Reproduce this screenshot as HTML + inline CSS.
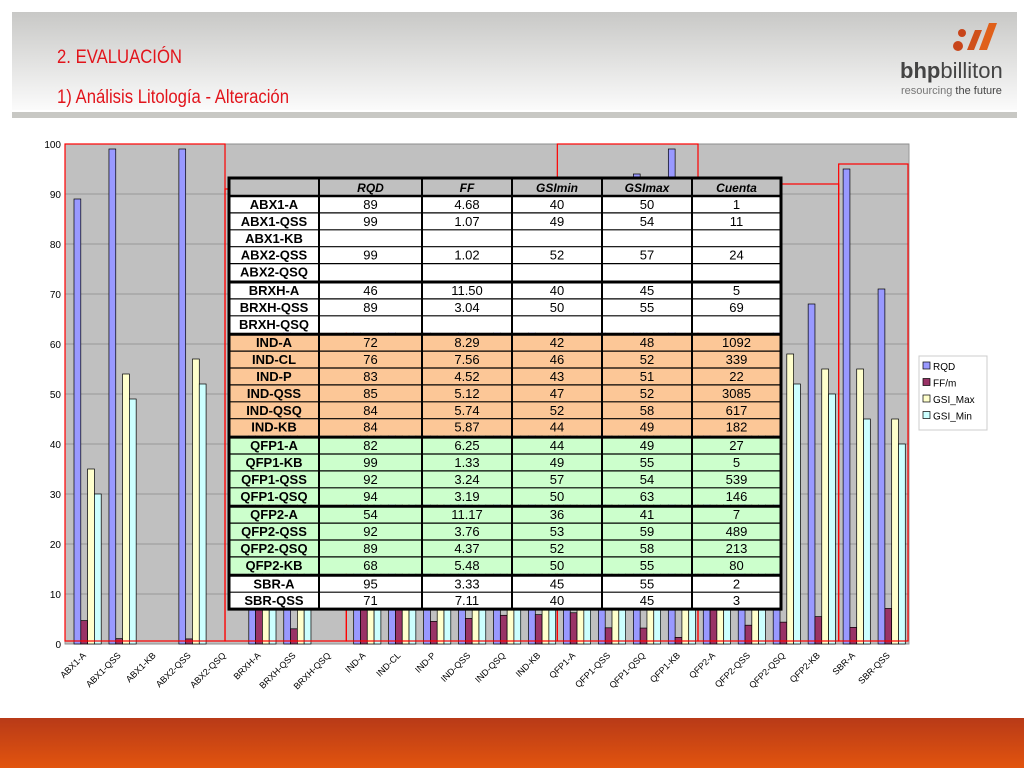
<!DOCTYPE html>
<html><head><meta charset="utf-8"><style>
body{margin:0;width:1024px;height:768px;overflow:hidden;background:#fff;font-family:"Liberation Sans",sans-serif}
</style></head><body>
<svg width="1024" height="768" xmlns="http://www.w3.org/2000/svg" style="font-family:'Liberation Sans',sans-serif">
<defs>
<linearGradient id="hdr" x1="0" y1="0" x2="0" y2="1"><stop offset="0" stop-color="#c8c8c6"/><stop offset="1" stop-color="#fbfbfb"/></linearGradient>
<linearGradient id="ftr" x1="0" y1="0" x2="0" y2="1"><stop offset="0" stop-color="#b83a18"/><stop offset="1" stop-color="#e2540e"/></linearGradient>
</defs>
<rect x="12" y="12" width="1005" height="98" fill="url(#hdr)"/>
<rect x="12" y="112" width="1005" height="6" fill="#c8c8c4"/>
<text x="57" y="63" font-size="19" fill="#e2141b" textLength="125" lengthAdjust="spacingAndGlyphs">2. EVALUACIÓN</text>
<text x="57" y="103" font-size="19" fill="#e2141b" textLength="232" lengthAdjust="spacingAndGlyphs">1) Análisis Litología - Alteración</text>
<g>
<circle cx="958" cy="46" r="5" fill="#c8451a"/><circle cx="962" cy="33" r="4" fill="#c8451a"/>
<path d="M967 50 L975 30 L982 30 L974 50Z" fill="#d0501a"/><path d="M979 50 L989 23 L997 23 L987 50Z" fill="#e0601a"/>
<text x="900" y="78" font-size="22" fill="#444" font-weight="bold">bhp<tspan font-weight="normal">billiton</tspan></text>
<text x="901" y="94" font-size="11" fill="#777">resourcing <tspan fill="#444">the future</tspan></text>
</g>
<rect x="0" y="718" width="1024" height="50" fill="url(#ftr)"/>
<g id="chart"></g>
<g id="tbl"></g>
</svg>
<script>
const categories=["ABX1-A","ABX1-QSS","ABX1-KB","ABX2-QSS","ABX2-QSQ","BRXH-A","BRXH-QSS","BRXH-QSQ","IND-A","IND-CL","IND-P","IND-QSS","IND-QSQ","IND-KB","QFP1-A","QFP1-KB","QFP1-QSS","QFP1-QSQ","QFP2-A","QFP2-QSS","QFP2-QSQ","QFP2-KB","SBR-A","SBR-QSS"];
const axisLabels=["ABX1-A","ABX1-QSS","ABX1-KB","ABX2-QSS","ABX2-QSQ","BRXH-A","BRXH-QSS","BRXH-QSQ","IND-A","IND-CL","IND-P","IND-QSS","IND-QSQ","IND-KB","QFP1-A","QFP1-QSS","QFP1-QSQ","QFP1-KB","QFP2-A","QFP2-QSS","QFP2-QSQ","QFP2-KB","SBR-A","SBR-QSS"];
const rqd=[89,99,null,99,null,46,89,null,72,76,83,85,84,84,82,92,94,99,54,92,89,68,95,71];
const ff=[4.68,1.07,null,1.02,null,11.50,3.04,null,8.29,7.56,4.52,5.12,5.74,5.87,6.25,3.24,3.19,1.33,11.17,3.76,4.37,5.48,3.33,7.11];
const gsiMax=[35,54,null,57,null,45,55,null,48,52,51,52,58,49,49,54,63,55,41,59,58,55,55,45];
const gsiMin=[30,49,null,52,null,40,50,null,42,46,43,47,52,44,44,57,50,49,36,53,52,50,45,40];
const yTicks=[0,10,20,30,40,50,60,70,80,90,100];
const tRows=["ABX1-A","ABX1-QSS","ABX1-KB","ABX2-QSS","ABX2-QSQ","BRXH-A","BRXH-QSS","BRXH-QSQ","IND-A","IND-CL","IND-P","IND-QSS","IND-QSQ","IND-KB","QFP1-A","QFP1-KB","QFP1-QSS","QFP1-QSQ","QFP2-A","QFP2-QSS","QFP2-QSQ","QFP2-KB","SBR-A","SBR-QSS"];
const tRQD=["89","99","","99","","46","89","","72","76","83","85","84","84","82","99","92","94","54","92","89","68","95","71"];
const tFF=["4.68","1.07","","1.02","","11.50","3.04","","8.29","7.56","4.52","5.12","5.74","5.87","6.25","1.33","3.24","3.19","11.17","3.76","4.37","5.48","3.33","7.11"];
const tMin=["40","49","","52","","40","50","","42","46","43","47","52","44","44","49","57","50","36","53","52","50","45","40"];
const tMax=["50","54","","57","","45","55","","48","52","51","52","58","49","49","55","54","63","41","59","58","55","55","45"];
const tCnt=["1","11","","24","","5","69","","1092","339","22","3085","617","182","27","5","539","146","7","489","213","80","2","3"];
const NS="http://www.w3.org/2000/svg";
function mk(p,t,a,txt){const e=document.createElementNS(NS,t);for(const k in a)e.setAttribute(k,a[k]);if(txt!=null)e.textContent=txt;p.appendChild(e);return e;}
const X0=65,X1=909,Y0=644,Y1=144;
const cw=34.96;
const bcw=(X1-X0)/24;
const y=v=>Y0-(v/100)*(Y0-Y1);
const ch=document.getElementById('chart');
const pa=mk(ch,'rect',{x:X0,y:Y1,width:X1-X0,height:Y0-Y1,fill:'#c0c0c0',stroke:'#999'});


yTicks.forEach(t=>{
 const l=mk(ch,'line',{x1:X0,x2:X1,y1:y(t),y2:y(t),stroke:'#8a8a8a','stroke-width':0.8});
 
 
 const tx=mk(ch,'text',{x:X0-4,y:y(t)+4,'font-size':10,'text-anchor':'end'},t);
 
 
});
const series=[[rqd,'#9999ff','rqd'],[ff,'#993366','ff'],[gsiMax,'#ffffcc','gsi-max'],[gsiMin,'#ccffff','gsi-min']];
const bw=6.8;
categories.forEach((c,i)=>{
 const gx=X0+i*cw+9;
 series.forEach((s,j)=>{const v=s[0][i];if(v==null)return;
  const r=mk(ch,'rect',{x:gx+j*bw,y:y(v),width:bw,height:Y0-y(v),fill:s[1],stroke:'#000','stroke-width':0.7});
  
  
 });
 const lx=X0+i*cw+cw/2+4;
 const tl=mk(ch,'text',{x:lx,y:Y0+12,'font-size':9,'text-anchor':'end',transform:`rotate(-45 ${lx} ${Y0+12})`},axisLabels[i]);
 
 
});
const boxes=[[0,4.55,100],[4.55,8,91],[8,14,93],[14,18,100],[18,22,92],[22,24,96]];
boxes.forEach(b=>{
 const r=mk(ch,'rect',{x:X0+b[0]*bcw,y:y(b[2]),width:(b[1]-b[0])*bcw-(b[1]==24?1:0),height:y(0.6)-y(b[2]),fill:'none',stroke:'#ff0000','stroke-width':1.2});
 
 
});
const lg=mk(ch,'g',{});


mk(lg,'rect',{x:919,y:356,width:68,height:74,fill:'#fff',stroke:'#ccc'});
[['RQD','#9999ff'],['FF/m','#993366'],['GSI_Max','#ffffcc'],['GSI_Min','#ccffff']].forEach((e,k)=>{
 const g=mk(lg,'g',{});
 
 
 mk(g,'rect',{x:923,y:362+k*16.5,width:7,height:7,fill:e[1],stroke:'#000','stroke-width':0.7});
 mk(g,'text',{x:933,y:370+k*16.5,'font-size':10},e[0]);
});
const tb=document.getElementById('tbl');
const cols=[229,319,422,512,602,692,781];
const groupsEnd=[5,8,14,18,22];
const colors=r=>r>=8&&r<14?'#fcc797':(r>=14&&r<22?'#ccffcc':'#fff');
mk(tb,'rect',{x:229,y:178,width:552,height:18,fill:'#c0c0c0'});
const heads=["","RQD","FF","GSImin","GSImax","Cuenta"];
heads.forEach((h,k)=>{const t=mk(tb,'text',{x:(cols[k]+cols[k+1])/2,y:192,'font-size':12,'font-weight':'bold','font-style':'italic','text-anchor':'middle'},h);
 
 });
let ry=196;const rh=16.9;
tRows.forEach((r,i)=>{
 if(groupsEnd.includes(i)) ry+=1.5;
 mk(tb,'rect',{x:229,y:ry,width:552,height:rh,fill:colors(i)});
 const vals=[r,tRQD[i],tFF[i],tMin[i],tMax[i],tCnt[i]];
 vals.forEach((v,k)=>{const t=mk(tb,'text',{x:(cols[k]+cols[k+1])/2,y:ry+13,'font-size':13,'font-weight':k==0?'bold':'normal','text-anchor':'middle'},v);
  
  });
 mk(tb,'line',{x1:229,x2:781,y1:ry,y2:ry,stroke:'#000','stroke-width':groupsEnd.includes(i)?3:1.2});
 ry+=rh;
});
mk(tb,'line',{x1:229,x2:781,y1:196,y2:196,stroke:'#000','stroke-width':2.5});
cols.forEach((c,k)=>mk(tb,'line',{x1:c,x2:c,y1:178,y2:ry,stroke:'#000','stroke-width':(k==0||k==6)?3:2}));
mk(tb,'rect',{x:229,y:178,width:552,height:ry-178,fill:'none',stroke:'#000','stroke-width':3});
</script>
</body></html>
